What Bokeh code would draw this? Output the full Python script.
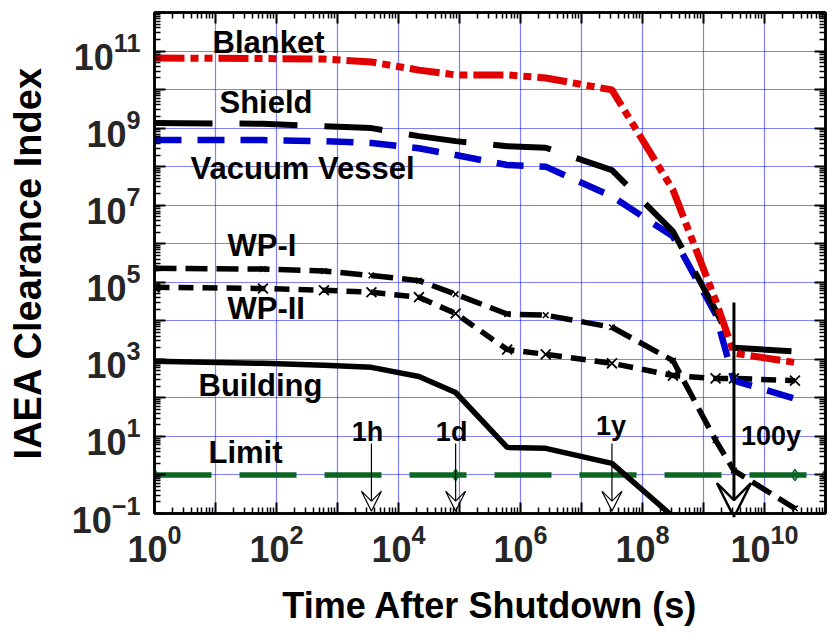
import math
from bokeh.plotting import figure
from bokeh.models import (LogAxis, FixedTicker, Label, Arrow, VeeHead,
                          CustomJSTickFormatter, LogTickFormatter)
from bokeh.embed import file_html
from bokeh.resources import INLINE

# ---------------- data ----------------
times = [1, 60, 600, 3600, 21600, 86400, 604800, 2.592e6, 3.156e7,
         3.156e8, 1.578e9, 3.156e9, 3.156e10]
blanket = [6.6e10, 6.4e10, 6.2e10, 5.2e10, 3.2e10, 2.4e10, 2.4e10, 2.0e10,
           9.8e9, 2.5e7, 3.4e4, 1.45e3, 830]
shield = [1.35e9, 1.3e9, 1.12e9, 1.0e9, 6.2e8, 4.6e8, 3.4e8, 3.1e8, 8.1e7,
          2.1e6, 1.9e4, 2.0e3, 1.6e3]
vessel = [4.9e8, 4.9e8, 4.6e8, 4.1e8, 3.0e8, 2.0e8, 1.1e8, 1.0e8, 1.7e7,
          1.55e6, 1.5e4, 280, 95]
wp1 = [2.3e5, 2.2e5, 1.95e5, 1.5e5, 1.1e5, 4.9e4, 1.5e4, 1.4e4, 6.8e3,
       930, 8.0, 1.3, 0.135]
wp2 = [7.4e4, 6.9e4, 6.2e4, 5.5e4, 4.1e4, 1.55e4, 1.8e3, 1.35e3, 790,
       380, 320, 320, 280]
building_t = [1, 60, 600, 3600, 21600, 86400, 604800, 2.592e6, 3.156e7, 3.156e8]
building = [890, 790, 700, 620, 360, 138, 5.2, 4.9, 2.0, 0.083]
limit_t = [1, 86400, 3.156e10, 1e11]
limit = [1, 1, 1, 1]

arrow_t = [3600, 86400, 3.156e7, 3.156e9]
arrow_labels = ["1h", "1d", "1y", "100y"]
arrow_top = [6.6, 6.6, 6.6, 3.0e4]
arrow_bottom = [0.115, 0.115, 0.115, 0.08]

x_decades = list(range(0, 12))
y_decades = list(range(-1, 13))
x_label_exps = [0, 2, 4, 6, 8, 10]
y_label_exps = [-1, 1, 3, 5, 7, 9, 11]

XMIN, XMAX = 1.0, 1e11
YMIN, YMAX = 0.1, 1e12

# ---------------- figure ----------------
p = figure(width=828, height=635, x_axis_type="log", y_axis_type="log",
           x_range=(XMIN, XMAX), y_range=(YMIN, YMAX),
           output_backend="svg", toolbar_location=None,
           min_border_left=154, min_border_right=3,
           min_border_top=12, min_border_bottom=122)
p.background_fill_color = "white"
p.border_fill_color = "white"
p.outline_line_color = "black"
p.outline_line_width = 2.5

xticker = FixedTicker(ticks=[10.0 ** k for k in x_decades],
                      minor_ticks=[m * 10.0 ** k for k in x_decades[:-1] for m in range(2, 10)])
yticker = FixedTicker(ticks=[10.0 ** k for k in y_decades],
                      minor_ticks=[m * 10.0 ** k for k in y_decades[:-1] for m in range(2, 10)])

FONT = "Liberation Sans"


def style_ticks(ax):
    ax.axis_line_color = "black"
    ax.axis_line_width = 2.5
    ax.major_tick_in = 11
    ax.major_tick_out = 0
    ax.minor_tick_in = 6
    ax.minor_tick_out = 0
    ax.major_tick_line_width = 2
    ax.minor_tick_line_width = 1.5
    ax.major_tick_line_color = "black"
    ax.minor_tick_line_color = "black"


def blank_labels(ax):
    ax.formatter = CustomJSTickFormatter(code="return ''")
    ax.major_label_text_color = None
    ax.major_label_text_font_size = "1px"
    ax.major_label_standoff = 0


def real_labels(ax, odd):
    ax.formatter = LogTickFormatter()
    ax.major_label_overrides = {10.0 ** k: "" for k in odd}
    ax.major_label_text_font = FONT
    ax.major_label_text_font_style = "bold"
    ax.major_label_text_font_size = "36px"
    ax.major_label_text_color = "#262626"
    ax.axis_label_text_font = FONT
    ax.axis_label_text_font_style = "bold"
    ax.axis_label_text_color = "black"


p.xaxis.ticker = xticker
p.yaxis.ticker = yticker
for ax in p.xaxis + p.yaxis:
    style_ticks(ax)
for ax in p.xaxis:
    real_labels(ax, [k for k in x_decades if k not in x_label_exps])
    ax.major_label_standoff = 10
    ax.axis_label = "Time After Shutdown (s)"
    ax.axis_label_text_font_size = "36px"
    ax.axis_label_standoff = 20
for ax in p.yaxis:
    real_labels(ax, [k for k in y_decades if k not in y_label_exps])
    ax.major_label_standoff = 14
    ax.axis_label = "IAEA Clearance Index"
    ax.axis_label_text_font_size = "38px"
    ax.axis_label_standoff = 20

top_ax = LogAxis(ticker=xticker)
right_ax = LogAxis(ticker=yticker)
for ax in (top_ax, right_ax):
    style_ticks(ax)
    blank_labels(ax)
p.add_layout(top_ax, "above")
p.add_layout(right_ax, "right")

p.xgrid.ticker = xticker
p.ygrid.ticker = yticker
for g in (p.xgrid, p.ygrid):
    g.grid_line_color = "#0000ff"
    g.grid_line_width = 1.2
    g.grid_line_dash = "1 1"

# ---------------- series ----------------
green = "#0b6623"
p.line(limit_t, limit, line_color=green, line_width=5.5, line_dash="57 28")
p.scatter(limit_t, limit, marker="diamond", size=11, line_color=green,
          fill_alpha=0, line_width=1.5)

p.line(building_t, building, line_color="black", line_width=5.5)

p.line(times, wp2, line_color="black", line_width=5.5, line_dash="15 9")
p.scatter(times, wp2, marker="x", size=14, line_color="black", line_width=1.8)

p.line(times, wp1, line_color="black", line_width=5.5, line_dash="22 9")
p.scatter(times, wp1, marker="x", size=8, line_color="black", line_width=1.5)

p.line(times, vessel, line_color="#0000cc", line_width=6.5, line_dash="27 16")
p.line(times, shield, line_color="black", line_width=6, line_dash="58 27")
p.line(times, blanket, line_color="#e00000", line_width=7,
       line_dash="30 6 8 6 8 6")

# ---------------- arrows ----------------
for i, (t, y0, y1) in enumerate(zip(arrow_t, arrow_top, arrow_bottom)):
    big = i == 3
    head = VeeHead(size=34 if big else 20, fill_alpha=0,
                   line_color="black", line_width=2.5 if big else 1.2)
    p.add_layout(Arrow(end=head, x_start=t, y_start=y0, x_end=t, y_end=y1,
                       line_color="black", line_width=3 if big else 1.2))


def lab(text, x, y, dx, dy, size, align="left", baseline="alphabetic",
        color="black"):
    p.add_layout(Label(x=x, y=y, x_offset=dx, y_offset=dy, text=text,
                       text_font=FONT, text_font_style="bold",
                       text_font_size=f"{size}px", text_color=color,
                       text_align=align, text_baseline=baseline))


# series names (offsets from frame bottom-left, in pixels)
names = ["Blanket", "Shield", "Vacuum Vessel", "WP-I", "WP-II", "Building", "Limit"]
name_pos = [(58, 471), (65, 411), (36, 345), (73, 268), (73, 205), (44, 128), (54, 61)]
for n, (dx, dy) in zip(names, name_pos):
    lab(n, XMIN, YMIN, dx, dy, 31)

# arrow captions
cap_dx = [-4, -4, -1, 37]
cap_dy = [82, 82, 88, 78]
for t, s, dx, dy in zip(arrow_t, arrow_labels, cap_dx, cap_dy):
    lab(s, t, YMIN, dx, dy, 27, align="center")

open("out.html", "w").write(file_html(p, INLINE))
